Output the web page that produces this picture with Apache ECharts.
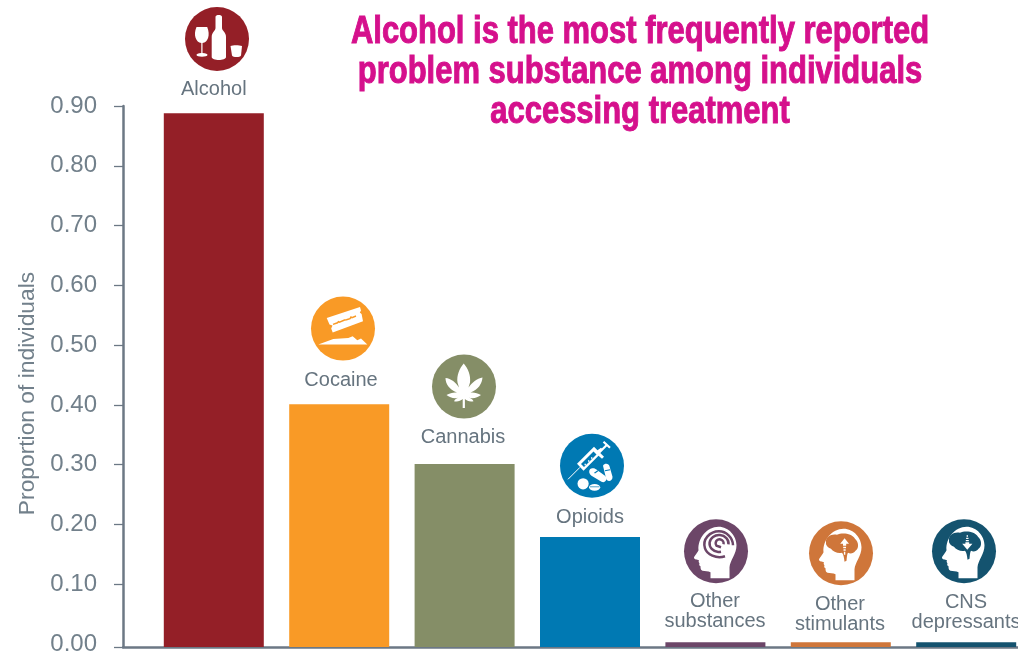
<!DOCTYPE html>
<html><head><meta charset="utf-8">
<style>html,body{margin:0;padding:0;background:#fff}#c{width:1018px;height:652px}</style>
<script src="https://cdn.jsdelivr.net/npm/echarts@6/dist/echarts.min.js"></script>
</head><body><div id="c"></div>
<script>
const categories = ['Alcohol','Cocaine','Cannabis','Opioids','Other\nsubstances','Other\nstimulants','CNS\ndepressants'];
const values = [0.888,0.401,0.301,0.179,0.003,0.003,0.003];
const yTickValues = [0,0.1,0.2,0.3,0.4,0.5,0.6,0.7,0.8,0.9];
const titleLines = ['Alcohol is the most frequently reported','problem substance among individuals','accessing treatment'];
const yAxisTitle = 'Proportion of individuals';
const barColors = ['#941f27','#f99a26','#858e67','#0079b3','#6c4668','#cf763a','#14536f'];

// Styling only
const labelGaps = [14,14,17,10,11,8,10];
const labelDx = [0,1.8,-1.6,0,-0.4,-0.8,-0.2];
const iconOffsets = [[3.2,-74.2],[3.8,-75.7],[-0.6,-77.5],[2,-71.2],[0.6,-90.9],[0.2,-88.9],[-2.2,-90.9]];
const AXIS = '#6c7885', TEXT = '#72808b', LABEL = '#66747f';
const AXIS_MIN = -0.00502;
const anchors = 'M -33 -33 L -33 -33 M 33 33 L 33 33 ';
const headPath = 'M -5.5 27 L -5.5 21 C -8 19.5 -11 20 -13.5 19.5 C -15.5 19 -15.5 16.5 -15.5 15 C -17 14.5 -17 13 -16.5 12 C -17.5 11 -17.5 10 -17 9 C -19 8.5 -22 8 -22 6.5 C -22 5 -18 1 -17.5 -1 C -18.5 -13 -9 -24.5 2.5 -24.5 C 13 -24.5 20.5 -15 20.5 -6 C 20.5 3 14 9 13.5 16 L 13.5 27 Z';
const brainPath = 'M -15 -11 C -16 -16.5 -9 -20 -4 -18.5 C 1 -21 11 -20 14 -14.5 C 18 -11 18 -4.5 14.5 -2.5 C 12.5 0.5 9 0.5 7 -0.5 C 6 1 6 3 5.5 7.5 L 3.5 8.5 C 3 4 2.5 1.5 1 -0.5 C -3 0.5 -8 -1.5 -10 -4.5 C -13 -5.5 -15.5 -8 -15 -11 Z';
const upArrow = 'M 3.6 -15 L 8 -9.5 L 5.2 -9.5 L 5.2 -7.5 L 2 -7.5 L 2 -9.5 L -0.8 -9.5 Z M 2.2 -6.5 H 5 V -5 H 2.2 Z M 2.5 -4 H 4.7 V -2.6 H 2.5 Z M 2.9 -1.6 H 4.3 V 1.5 H 2.9 Z';
const downArrow = 'M 3.3 -1.5 L 8.4 -7.5 L 5.2 -7.5 L 5.2 -9 L 1.4 -9 L 1.4 -7.5 L -1.8 -7.5 Z M 1.8 -10 H 4.8 V -11.3 H 1.8 Z M 2.1 -12.3 H 4.5 V -13.6 H 2.1 Z M 2.6 -14.5 H 4 V -16 H 2.6 Z';
const iconParts = [
 [ // alcohol
  {f:'#fff',d:'M -1.5 -22 C -1.5 -24.5 5 -24.5 5 -22 L 5 -11 C 5 -8 9 -7 9 -2 L 9 18 C 9 22 -5.3 22 -5.3 18 L -5.3 -2 C -5.3 -7 -1.5 -8 -1.5 -11 Z'},
  {f:'#fff',d:'M -20.5 -12 L -9.8 -12 C -6.5 -4 -9 3.5 -14.5 4 L -14.5 14 C -11 14.3 -9.5 15 -9.5 16 C -9.5 18.3 -20.5 18.3 -20.5 16 C -20.5 15 -19 14.3 -15.7 14 L -15.7 4 C -21 3.5 -24 -4 -20.5 -12 Z'},
  {f:'#fff',d:'M 13.5 7 C 16 6 22 6 25 7 L 24 16.5 C 23 18.5 16 18.5 15 16.5 Z'}
 ],
 [ // cocaine
  {f:'#fff',d:'M -16.3 -10.7 L 17 -21.7 L 18 -18 L 16.8 -16 L 18.6 -14.6 L 20 -7.3 L -10.3 4 L -11.8 0 L -10.5 -3 L -13.5 -4 Z'},
  {s:'#f99a26',w:1.5,d:'M -10 -4.2 L -5.5 -5.8 L -4.5 -7 L -3.5 -6.5 L 1.5 -8.5 L 3.5 -8.8 L 7 -10 L 8 -11.5 L 9 -11 L 13 -12.6'},
  {f:'#fff',d:'M -24.7 16 L -9.7 10.3 L 5.3 9.3 L 9.7 7.7 L 14.3 11.7 L 18 10 L 24.3 16 Z'}
 ],
 [ // cannabis
  {f:'#fff',d:'M -0.3 -23 C 4 -18 7 -11 6 -4 L 4.5 1 C 8 -4 13 -8 18.5 -9 C 18 -3 14.5 3 6.5 6 C 10 5.5 13.5 6.5 17 8.5 C 13.5 11.5 8.5 12.5 4.5 11 C 6.5 11.5 8.5 12.5 9.5 14.7 C 6 15.5 3 14.5 0.9 12.5 L 0.9 21.5 L -1.3 21.5 L -1.3 12.5 C -3.5 14.5 -6.5 15.5 -10 14.7 C -9 12.5 -7 11.5 -5 11 C -9 12.5 -14 11.5 -17.5 8.5 C -14 6.5 -10.5 5.5 -7 6 C -15 3 -18.5 -3 -18.5 -8.5 C -13 -8 -8 -4 -5 1 L -6.5 -4 C -7.5 -11 -4.5 -18 -0.3 -23 Z'}
 ],
 [ // opioids
  {s:'#fff',w:1,d:'M -24 13.5 L -12 1.5'},
  {f:'#fff',d:'M -15 -2 L 2 -19 L 5.5 -15.5 L 9 -18 L 10.5 -16.5 L 8 -13 L 12 -9 L 10 -7 L 6.5 -10 L -8.5 5 L -15 -2 Z'},
  {f:'#0079b3',d:'M -11 -1.8 L 1.5 -14.3 L 4.5 -11.3 L -8 1.2 Z'},
  {f:'#fff',d:'M -7.5 -2 h 1.4 v 1.4 h -1.4 Z M -4 -5.5 h 1.4 v 1.4 h -1.4 Z M -1 -8.5 h 1.4 v 1.4 h -1.4 Z'},
  {s:'#fff',w:2.2,d:'M 7.5 -13.5 L 14.5 -20.5 M 11.5 -24 L 18 -18'},
  {f:'#fff',d:'M -2 3.5 C 0 1.5 3 2.5 4 3.5 L 13 10 C 16.5 13 13 18 9.5 16 L -0.5 10 C -3 8.5 -3.5 5 -2 3.5 Z'},
  {f:'#0079b3',d:'M 2 7 L 5.5 4.5 L 6.5 5.2 L 3 7.8 Z'},
  {f:'#fff',d:'M 11 0 C 12.5 -3 17 -2.5 17.5 0.5 L 20.5 11 C 21 15.5 15 17 14 12.5 Z'},
  {f:'#0079b3',d:'M 12.8 4.5 L 18 3.5 L 18.2 4.5 L 13 5.5 Z'},
  {f:'#fff',d:'M -14.5 18 A 5.6 5.6 0 1 0 -3.3 18 A 5.6 5.6 0 1 0 -14.5 18 Z'},
  {f:'#fff',d:'M -3 21.5 A 5.6 3.4 0 1 0 8.2 21.5 A 5.6 3.4 0 1 0 -3 21.5 Z'},
  {s:'#0079b3',w:0.7,d:'M -2 21 L 7.5 21'}
 ],
 [ // other substances
  {f:'#fff',d:headPath},
  {s:'#6c4668',w:2.5,d:'M 7.5 -7 A 4 4 0 1 0 0.5 -5.5 L 5 -4 M 12.5 -7 A 9.5 8.5 0 1 0 5 0.5 M 17 -6 C 17 -14 10 -20 3 -20 C -6 -20 -14 -12 -11 -3 C -9 3 0 8 9 5'}
 ],
 [ // other stimulants
  {f:'#fff',d:headPath},
  {f:'#cf763a',d:brainPath},
  {f:'#fff',d:upArrow}
 ],
 [ // CNS depressants
  {f:'#fff',d:headPath},
  {f:'#14536f',d:brainPath},
  {f:'#fff',d:downArrow}
 ]
];

function renderIcon(params, api){
  const i = api.value(0);
  const p = api.coord([i, api.value(1)]);
  const o = iconOffsets[i];
  const children = [{type:'circle',shape:{cx:0,cy:0,r:32},style:{fill:barColors[i]}}];
  iconParts[i].forEach(q=>children.push({
    type:'path',
    shape:{pathData:anchors+q.d,x:-33,y:-33,width:66,height:66,layout:'cover'},
    style:{fill:q.f||'none',stroke:q.s&&q.w?q.s:'none',lineWidth:q.w||0}
  }));
  return {type:'group',x:p[0]+o[0],y:p[1]+o[1],children};
}

const chart = echarts.init(document.getElementById('c'));
chart.setOption({
  animation:false,
  backgroundColor:'#fff',
  graphic:[{
    type:'text',x:640,y:72.5,scaleX:0.815,silent:true,
    style:{text:titleLines.join('\n'),align:'center',verticalAlign:'middle',
      fontFamily:'"Liberation Sans",sans-serif',fontWeight:'bold',fontSize:38,lineHeight:40,
      fill:'#d5108c',stroke:'#d5108c',lineWidth:1}
  }],
  grid:[
    {left:151.1,top:106,width:877.8,height:541,outerBoundsMode:'none'},
    {left:123,top:106,width:895,height:541,outerBoundsMode:'none'}
  ],
  xAxis:[
    {gridIndex:0,type:'category',data:categories,axisLine:{show:false},axisTick:{show:false},axisLabel:{show:false}},
    {gridIndex:1,type:'value',min:0,max:1,position:'bottom',axisLine:{onZero:false,show:true,lineStyle:{color:AXIS,width:2.5}},axisTick:{show:false},axisLabel:{show:false},splitLine:{show:false}}
  ],
  yAxis:[
    {gridIndex:0,type:'value',min:AXIS_MIN,max:0.9,show:false,splitLine:{show:false}},
    {gridIndex:1,type:'value',min:AXIS_MIN,max:0.9,
      name:yAxisTitle,nameLocation:'middle',nameGap:84,nameRotate:90,
      nameTextStyle:{fontFamily:'"Liberation Sans",sans-serif',fontSize:22.8,color:TEXT,padding:[0,0,0,-34]},
      axisLine:{show:true,onZero:false,lineStyle:{color:AXIS,width:2.5}},
      axisTick:{show:true,length:9,lineStyle:{color:AXIS,width:1.3},customValues:[AXIS_MIN].concat(yTickValues.slice(1))},
      axisLabel:{show:true,margin:26,fontFamily:'"Liberation Sans",sans-serif',fontSize:24,color:TEXT,
        customValues:yTickValues,formatter:v=>Number(v).toFixed(2)},
      splitLine:{show:false}}
  ],
  series:[
    {type:'bar',xAxisIndex:0,yAxisIndex:0,barWidth:100,stack:'bars',
     label:{show:true,position:'top',formatter:'{b}',fontFamily:'"Liberation Sans",sans-serif',fontSize:20,lineHeight:20,color:LABEL},
     data:values.map((v,i)=>({value:v,
       itemStyle:{color:barColors[i]},
       label:{distance:labelGaps[i],offset:[labelDx[i],0]}}))},
    {type:'bar',xAxisIndex:0,yAxisIndex:0,barWidth:100,stack:'bars',silent:true,
     // carries each bar down from the zero value to the axis line, which sits just below it
     data:values.map((v,i)=>({value:AXIS_MIN,itemStyle:{color:barColors[i]}}))},
    {type:'custom',xAxisIndex:0,yAxisIndex:0,clip:false,z:5,silent:true,renderItem:renderIcon,
     encode:{x:0,y:1},data:values.map((v,i)=>[i,v])}
  ]
});
</script></body></html>
